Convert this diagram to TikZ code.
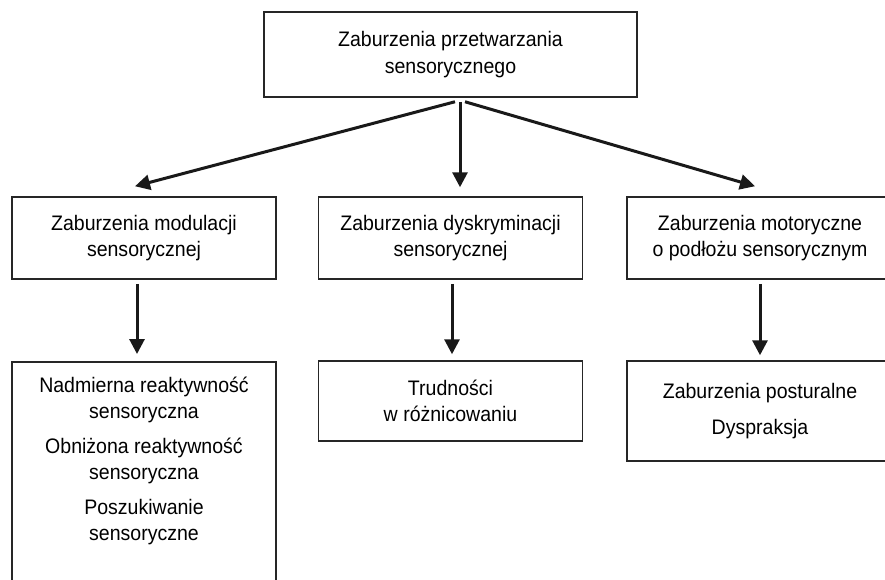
\documentclass[tikz,border=0pt]{standalone}
\usepackage{fontspec}
\setmainfont{Liberation Sans}[FakeStretch=0.93]
\usetikzlibrary{arrows.meta}
\tikzset{
  box/.style={draw=black!85, line width=1.5pt, minimum width=264pt, align=center,
    inner sep=0pt, font=\fontsize{21pt}{26.5pt}\selectfont},
  arr/.style={line width=3pt, black!90, -{Triangle[length=15pt,width=15pt]}}
}
\begin{document}
\begin{tikzpicture}[x=1pt,y=-1pt]
    \useasboundingbox (0,0) rectangle (885,579);
    % Top level
    \node[box, minimum width=373pt, minimum height=85pt] (proc) at (450.5,54.5) {Zaburzenia przetwarzania\\ sensorycznego};
    % Second level
    \node[box, minimum height=82pt] (mod) at (144,238) {Zaburzenia modulacji\\ sensorycznej};
    \node[box, minimum height=82pt] (dys) at (450.5,238) {Zaburzenia dyskryminacji\\ sensorycznej};
    \node[box, minimum height=82pt, minimum width=266pt] (mot) at (760,238) {Zaburzenia motoryczne\\ o podłożu sensorycznym};
    % Third level (left box runs past the bottom edge)
    \node[box, anchor=north, inner ysep=15pt] (typy) at (144,361) {Nadmierna reaktywność\\ sensoryczna\\[8pt] Obniżona reaktywność\\ sensoryczna\\[8pt] Poszukiwanie\\ sensoryczne\\[30pt] \strut};
    \node[box, minimum height=80pt] (trud) at (450.5,401) {Trudności\\ w różnicowaniu};
    \node[box, minimum height=100pt, minimum width=266pt] (post) at (760,411) {Zaburzenia posturalne\\[10pt] Dyspraksja};
    % Arrows from the top box
    \draw[arr] ([xshift=4.5pt,yshift=-4pt]proc.south) -- ([xshift=-9pt,yshift=10pt]mod.north);
    \draw[arr] ([xshift=9.5pt,yshift=-4pt]proc.south) -- ([xshift=9.5pt,yshift=9pt]dys.north);
    \draw[arr] ([xshift=14.5pt,yshift=-4pt]proc.south) -- ([xshift=-5pt,yshift=10pt]mot.north);
    % Arrows down to the third level
    \draw[arr] ([xshift=-7pt,yshift=-4pt]mod.south) -- ([xshift=-7pt,yshift=7pt]typy.north);
    \draw[arr] ([xshift=1.5pt,yshift=-4pt]dys.south) -- ([xshift=1.5pt,yshift=6pt]trud.north);
    \draw[arr] ([yshift=-4pt]mot.south) -- ([yshift=5pt]post.north);
\end{tikzpicture}
\end{document}
